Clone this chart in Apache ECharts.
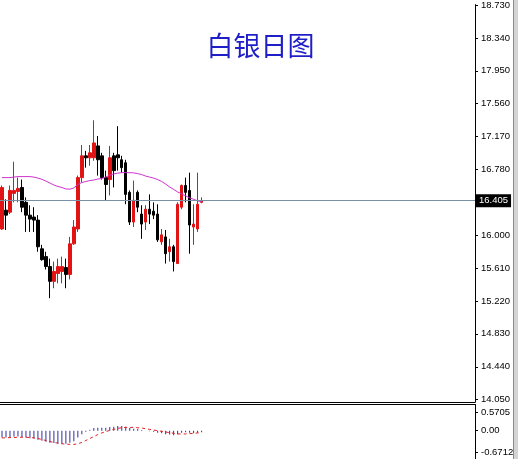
<!DOCTYPE html>
<html><head><meta charset="utf-8">
<script src="https://cdn.jsdelivr.net/npm/echarts@6/dist/echarts.min.js"></script>
<style>html,body{margin:0;padding:0;background:#fff}#c{width:521px;height:459px}</style>
</head><body><div id="c"></div>
<script>
// ---- data ----
const titleText = '白银日图';
const opens  = [16.074,16.297,16.273,16.496,16.519,16.566,16.390,16.238,16.215,16.179,15.839,15.746,15.628,15.453,15.546,15.570,15.617,15.535,15.898,16.074,16.683,16.941,16.918,16.918,17.059,16.941,16.683,16.660,16.941,16.953,16.895,16.859,16.508,16.156,16.508,16.250,16.156,16.308,16.285,16.250,15.921,15.980,15.804,15.863,15.664,16.332,16.590,16.531,16.097,16.074,16.390];
const closes = [16.566,16.238,16.531,16.531,16.555,16.332,16.238,16.191,16.179,15.863,15.710,15.628,15.453,15.570,15.628,15.628,15.535,15.898,16.097,16.683,16.941,16.918,16.977,17.094,16.895,16.683,16.601,16.918,16.766,16.918,16.801,16.484,16.156,16.414,16.332,16.132,16.308,16.250,16.238,15.945,16.004,15.781,15.863,15.687,16.367,16.590,16.508,16.121,16.132,16.367,16.405];
const lows   = [16.062,16.062,16.250,16.390,16.390,16.273,16.039,16.039,16.039,15.804,15.698,15.593,15.253,15.371,15.429,15.429,15.371,15.476,15.886,16.039,16.625,16.801,16.824,16.883,16.707,16.660,16.414,16.472,16.566,16.766,16.742,16.367,16.121,16.097,16.273,15.957,16.062,16.132,16.191,15.921,15.886,15.664,15.687,15.570,15.664,16.308,16.390,15.781,15.886,16.039,16.379];
const highs  = [16.590,16.426,16.590,16.871,16.683,16.660,16.449,16.355,16.332,16.238,15.886,15.804,15.722,15.687,15.722,15.746,15.722,15.980,16.179,16.707,17.070,17.000,17.070,17.363,17.176,16.977,16.766,17.059,16.977,17.293,16.941,16.895,16.531,16.648,16.531,16.355,16.355,16.484,16.390,16.367,16.074,16.062,15.957,15.886,16.390,16.601,16.683,16.742,16.367,16.742,16.449];
const maLine = [16.683,16.683,16.683,16.689,16.695,16.695,16.695,16.695,16.689,16.677,16.663,16.642,16.619,16.595,16.578,16.566,16.549,16.546,16.560,16.601,16.625,16.637,16.648,16.654,16.666,16.672,16.689,16.713,16.727,16.736,16.742,16.742,16.742,16.739,16.730,16.719,16.701,16.689,16.677,16.660,16.637,16.607,16.572,16.543,16.513,16.490,16.467,16.443,16.426,16.408,16.396];
const macdMain = [-0.21,-0.21,-0.20,-0.18,-0.18,-0.20,-0.21,-0.23,-0.24,-0.28,-0.31,-0.34,-0.37,-0.38,-0.40,-0.40,-0.40,-0.37,-0.32,-0.21,-0.11,-0.03,0.03,0.08,0.09,0.09,0.09,0.11,0.12,0.14,0.14,0.12,0.08,0.06,0.05,0.02,0.00,-0.02,-0.03,-0.06,-0.08,-0.11,-0.12,-0.14,-0.11,-0.06,-0.05,-0.06,-0.08,-0.06,-0.05];
const macdSignal = [-0.22,-0.22,-0.21,-0.21,-0.20,-0.20,-0.20,-0.21,-0.22,-0.24,-0.27,-0.30,-0.33,-0.36,-0.38,-0.40,-0.41,-0.42,-0.42,-0.40,-0.36,-0.30,-0.24,-0.18,-0.12,-0.07,-0.03,0.01,0.04,0.07,0.09,0.10,0.10,0.10,0.09,0.08,0.06,0.04,0.02,0.00,-0.02,-0.04,-0.06,-0.08,-0.10,-0.10,-0.10,-0.09,-0.08,-0.07,-0.06];
const lastPrice = 16.405;
const priceTicks = [18.730,18.340,17.950,17.560,17.170,16.780,16.000,15.610,15.220,14.830,14.440,14.050];
const macdTicks = [0.5705, 0.00, -0.6712];
const totalSlots = 119; // chart shift: empty slots to the right of the last bar

// ---- build ----
const cats = [];
for (let i = 0; i < totalSlots; i++) cats.push(i < opens.length ? 'D' + (i + 1) : '');
const ohlc = opens.map((o, i) => [o, closes[i], lows[i], highs[i]]);

const FONT = 'Liberation Sans';
const chart = echarts.init(document.getElementById('c'), null, {renderer: 'canvas'});
chart.setOption({
  animation: false,
  backgroundColor: '#ffffff',
  title: {
    text: titleText, left: 'center', top: 27,
    textStyle: {fontSize: 27, fontWeight: 'normal', color: '#1f1fc8', fontFamily: 'Noto Sans CJK SC'}
  },
  grid: [
    {left: 0, right: 46, top: 0, bottom: 57},
    {left: 0, right: 46, top: 404.5, bottom: 0}
  ],
  xAxis: [
    {type: 'category', gridIndex: 0, data: cats, boundaryGap: true, position: 'bottom',
     axisLine: {show: true, onZero: false, lineStyle: {color: '#000', width: 1}}, axisTick: {show: false},
     axisLabel: {show: false}, splitLine: {show: false}},
    {type: 'category', gridIndex: 1, data: cats, boundaryGap: true, position: 'top',
     axisLine: {show: true, onZero: false, lineStyle: {color: '#000', width: 1}}, axisTick: {show: false},
     axisLabel: {show: false}, splitLine: {show: false}}
  ],
  yAxis: [
    {type: 'value', gridIndex: 0, position: 'right', min: 14.022, max: 18.735,
     axisLine: {show: true, onZero: false, lineStyle: {color: '#000', width: 1}},
     axisTick: {show: true, customValues: priceTicks, length: 3, lineStyle: {color: '#000'}},
     axisLabel: {show: true, customValues: priceTicks, margin: 6, color: '#000', fontSize: 9.5, fontFamily: FONT,
                 formatter: v => Number(v).toFixed(3)},
     splitLine: {show: false}},
    {type: 'value', gridIndex: 1, position: 'right', min: -0.866, max: 0.80,
     axisLine: {show: true, onZero: false, lineStyle: {color: '#000', width: 1}},
     axisTick: {show: true, customValues: macdTicks, length: 3, lineStyle: {color: '#000'}},
     axisLabel: {show: true, customValues: macdTicks, margin: 6, color: '#000', fontSize: 9.5, fontFamily: FONT,
                 formatter: v => (v === 0 ? '0.00' : String(v))},
     splitLine: {show: false}}
  ],
  graphic: [
    {type: 'rect', left: 513, top: 0, shape: {width: 1, height: 459}, style: {fill: '#8a8a8a'}, silent: true},
    {type: 'rect', left: 514, top: 0, shape: {width: 4, height: 459}, style: {fill: '#d4d4d4'}, silent: true}
  ],
  series: [
    {type: 'candlestick', xAxisIndex: 0, yAxisIndex: 0, data: ohlc, barWidth: 3,
     itemStyle: {color: '#e01414', color0: '#000000', borderColor: '#e01414', borderColor0: '#000000', borderWidth: 1},
     markLine: {
       silent: true, symbol: ['none', 'none'], animation: false,
       lineStyle: {color: '#7890a2', type: 'solid', width: 1},
       label: {show: true, position: 'end', distance: 1, formatter: lastPrice.toFixed(3),
               color: '#fff', backgroundColor: '#000', padding: [2, 3, 1, 3], fontSize: 9.5, fontFamily: FONT},
       emphasis: {disabled: true},
       data: [{yAxis: lastPrice}]
     }},
    {type: 'line', xAxisIndex: 0, yAxisIndex: 0, data: maLine, showSymbol: false, smooth: false,
     lineStyle: {color: '#cc33cc', width: 1}},
    {type: 'bar', xAxisIndex: 1, yAxisIndex: 1, data: macdMain, barWidth: 1,
     itemStyle: {color: '#2f2fa6'}},
    {type: 'line', xAxisIndex: 1, yAxisIndex: 1, data: macdSignal, showSymbol: false,
     lineStyle: {color: '#e02020', width: 1, type: [3, 3]}}
  ]
});
</script>
</body></html>
